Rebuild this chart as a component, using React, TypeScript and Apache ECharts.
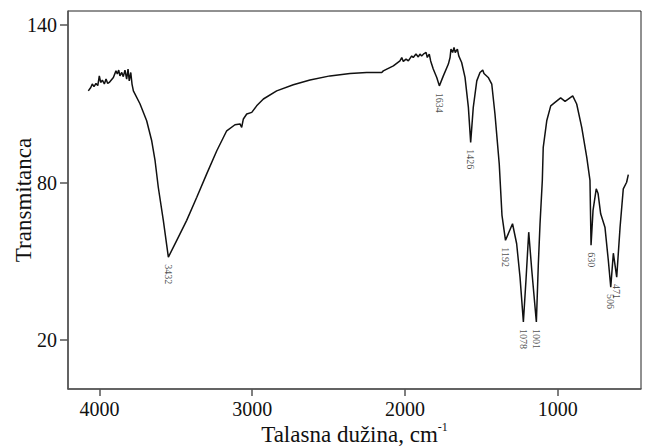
import React, { useEffect, useRef } from "react";
import * as echarts from "echarts";

// IR spectrum trace (wavenumber, cm-1) and transmittance values
const wavenumbers = [
  4073, 4057, 4047, 4036, 4023, 4011, 4001, 3992, 3981, 3968, 3957, 3946, 3936, 3909,
  3892, 3883, 3874, 3866, 3854, 3844, 3833, 3822, 3813, 3805, 3795, 3787, 3778, 3735,
  3691, 3658, 3636, 3615, 3582, 3549, 3494, 3429, 3363, 3298, 3232, 3167, 3113, 3080,
  3069, 3058, 3036, 3003, 2971, 2927, 2840, 2731, 2622, 2491, 2360, 2251, 2152, 2142,
  2076, 2033, 2021, 2011, 1993, 1978, 1956, 1946, 1928, 1913, 1902, 1891, 1875, 1862,
  1854, 1841, 1832, 1815, 1792, 1775, 1749, 1716, 1705, 1699, 1688, 1679, 1671, 1657,
  1648, 1629, 1607, 1585, 1570, 1553, 1530, 1509, 1491, 1483, 1455, 1432, 1411, 1383,
  1365, 1342, 1296, 1269, 1247, 1225, 1208, 1190, 1170, 1140, 1127, 1116, 1101, 1095,
  1072, 1046, 1018, 981, 952, 902, 876, 843, 810, 789, 782, 769, 748, 736, 719, 691,
  669, 653, 636, 614, 592, 571, 549, 538,
];
const transmittance = [
  114.9, 116.2, 117.5, 116.5, 117.7, 116.9, 120.6, 118.1, 119.0, 117.5, 119.4, 117.7, 118.1, 120.0,
  122.5, 121.3, 122.8, 120.6, 121.9, 120.3, 122.8, 119.4, 123.2, 118.7, 121.9, 117.5, 114.9, 110.0,
  103.5, 95.9, 88.3, 78.2, 65.6, 51.6, 58.0, 65.6, 74.4, 83.3, 92.1, 99.7, 102.0, 102.3,
  101.0, 104.2, 106.1, 106.7, 109.2, 111.8, 114.9, 117.2, 119.0, 120.6, 121.5, 121.9, 121.9, 122.5,
  124.4, 126.3, 127.6, 126.1, 127.0, 126.3, 128.2, 127.6, 128.9, 127.8, 128.9, 128.2, 129.1, 129.5,
  127.6, 128.9, 126.3, 123.2, 120.0, 116.8, 120.6, 125.1, 127.6, 130.8, 129.5, 131.4, 129.5, 130.8,
  128.2, 125.7, 120.0, 108.6, 95.3, 108.6, 118.7, 121.9, 122.8, 121.5, 120.0, 117.5, 106.1, 87.1,
  67.5, 58.0, 64.3, 56.7, 44.0, 26.9, 42.8, 61.1, 46.6, 26.9, 49.1, 64.3, 80.8, 93.4,
  103.5, 109.2, 110.5, 112.2, 110.9, 113.0, 109.9, 101.0, 89.6, 80.8, 56.1, 69.4, 77.6, 75.8, 68.1, 63.0,
  50.4, 40.2, 53.1, 44.0, 63.0, 77.6, 80.1, 83.0,
];

// Peak annotations
const peakLabels = ["3432", "1634", "1426", "1192", "1078", "1001", "630", "506", "471"];
const peakWavenumbers = [3549, 1775, 1570, 1342, 1225, 1140, 782, 653, 614];
const peakValues = [51.6, 116.8, 95.3, 58.0, 26.9, 26.9, 56.1, 40.2, 44.0];

// Axis ticks
const xTicks = [4000, 3000, 2000, 1000];
const yTicks = [20, 80, 140];

const FONT = "'Liberation Serif', 'Times New Roman', serif";

export default function App() {
  const ref = useRef<HTMLDivElement>(null);

  useEffect(() => {
    if (!ref.current) return;
    const chart = echarts.init(ref.current, undefined, { renderer: "svg" });
    const lineData = wavenumbers.map((w, i) => [w, transmittance[i]]);
    const peakData = peakWavenumbers.map((w, i) => ({
      value: [w, peakValues[i]],
      name: peakLabels[i],
    }));

    chart.setOption({
      animation: false,
      backgroundColor: "#ffffff",
      grid: {
        left: 68,
        right: 12,
        top: 11,
        bottom: 59,
        containLabel: false,
        outerBoundsMode: "none",
        show: true,
        borderColor: "#222",
        borderWidth: 1,
        backgroundColor: "transparent",
      },
      xAxis: {
        type: "value",
        inverse: true,
        min: 455,
        max: 4206,
        splitLine: { show: false },
        axisLine: { show: true, lineStyle: { color: "#555", width: 1.5 } },
        axisTick: {
          show: true,
          customValues: xTicks,
          length: 7,
          lineStyle: { color: "#555", width: 1.5 },
        },
        axisLabel: {
          customValues: xTicks,
          formatter: (v: number) => String(v),
          margin: 10,
          color: "#111",
          fontFamily: FONT,
          fontSize: 20,
        },
        name: "{a|Talasna dužina, cm}{b|-1}",
        nameLocation: "middle",
        nameGap: 32,
        nameMoveOverlap: false,
        nameTextStyle: {
          rich: {
            a: { fontFamily: FONT, fontSize: 23, color: "#111", lineHeight: 26 },
            b: { fontFamily: FONT, fontSize: 12, color: "#111", verticalAlign: "top", lineHeight: 26 },
          },
        },
      },
      yAxis: {
        type: "value",
        min: 1.4,
        max: 145.3,
        splitLine: { show: false },
        axisLine: { show: true, lineStyle: { color: "#555", width: 1.5 } },
        axisTick: {
          show: true,
          customValues: yTicks,
          length: 8,
          lineStyle: { color: "#555", width: 1.5 },
        },
        axisLabel: {
          customValues: yTicks,
          formatter: (v: number) => String(v),
          margin: 11,
          color: "#111",
          fontFamily: FONT,
          fontSize: 20,
        },
        name: "Transmitanca",
        nameLocation: "middle",
        nameGap: 45,
        nameMoveOverlap: false,
        nameTextStyle: { fontFamily: FONT, fontSize: 23, color: "#111", verticalAlign: "middle" },
      },
      series: [
        {
          type: "line",
          data: lineData,
          showSymbol: false,
          symbol: "none",
          lineStyle: { color: "#111", width: 1.5 },
          z: 3,
        },
        {
          type: "scatter",
          data: peakData,
          symbolSize: 2,
          itemStyle: { color: "rgba(0,0,0,0)" },
          z: 4,
          labelLayout: { hideOverlap: false },
          label: {
            show: true,
            position: "bottom",
            distance: 6,
            rotate: -90,
            align: "left",
            verticalAlign: "middle",
            formatter: (p: any) => p.name,
            fontFamily: FONT,
            fontSize: 10,
            color: "#222",
          },
        },
      ],
    });

    return () => chart.dispose();
  }, []);

  return <div ref={ref} style={{ width: 653, height: 448, marginLeft: -8, marginTop: -8 }} />;
}
